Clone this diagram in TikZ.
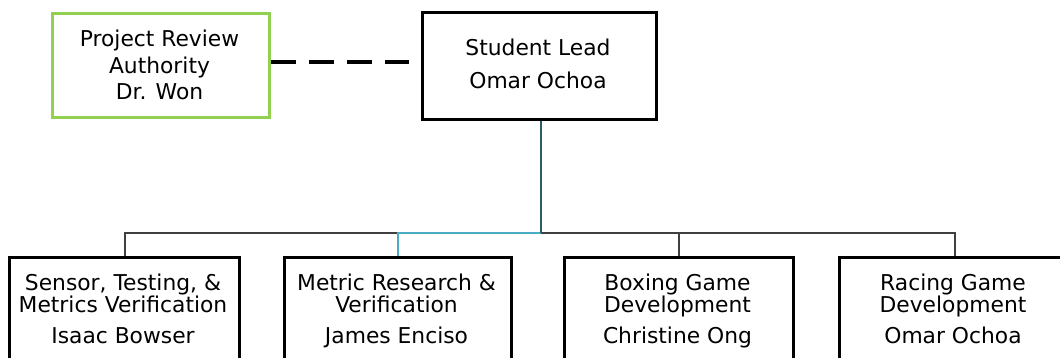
\documentclass[tikz,border=0pt]{standalone}
\usepackage{fontspec}
\setmainfont{DejaVu Sans}
\definecolor{boxgreen}{HTML}{92D050}
\definecolor{darkteal}{HTML}{2E5B6B}
\definecolor{lightteal}{HTML}{4BACC6}
\definecolor{linegray}{HTML}{404040}
\begin{document}
\begin{tikzpicture}[x=1pt,y=-1pt,
  bbox/.style={draw=black, line width=3.2pt, fill=white, inner sep=0pt, anchor=north west},
  gbox/.style={draw=boxgreen, line width=3.2pt, fill=white, inner sep=0pt, anchor=north west},
  txt/.style={anchor=base, inner sep=0pt, font=\fontsize{21.8}{24}\selectfont, text=black},
  conn/.style={draw=linegray, line width=2.2pt},
]
\useasboundingbox (0,0) rectangle (1060,358);
\clip (0,0) rectangle (1060,358);

% boxes
\node[gbox, minimum width=217, minimum height=104] (pra) at (51,12) {};
\node[bbox, minimum width=234, minimum height=107] (sl) at (421,11) {};
\node[bbox, minimum width=230, minimum height=130] (b1) at (8,256) {};
\node[bbox, minimum width=227, minimum height=130] (b2) at (283,256) {};
\node[bbox, minimum width=229, minimum height=130] (b3) at (563,256) {};
\node[bbox, minimum width=230, minimum height=130] (b4) at (838,256) {};

% texts
\node[txt] (pra1) at (159.5,47) {Project Review};
\node[txt] (pra2) at (159.5,74) {Authority};
\node[txt] (pra3) at (159.5,100) {Dr. Won};
\node[txt] (sl1) at (538,56) {Student Lead};
\node[txt] (sl2) at (538,89) {Omar Ochoa};
\node[txt] (b1a) at (123,290) {Sensor, Testing, \&};
\node[txt] (b1b) at (123,312) {Metrics Verification};
\node[txt] (b1c) at (123,343) {Isaac Bowser};
\node[txt] (b2a) at (396.5,290) {Metric Research \&};
\node[txt] (b2b) at (396.5,312) {Verification};
\node[txt] (b2c) at (396.5,343) {James Enciso};
\node[txt] (b3a) at (677.5,290) {Boxing Game};
\node[txt] (b3b) at (677.5,312) {Development};
\node[txt] (b3c) at (677.5,343) {Christine Ong};
\node[txt] (b4a) at (953,290) {Racing Game};
\node[txt] (b4b) at (953,312) {Development};
\node[txt] (b4c) at (953,343) {Omar Ochoa};

% connectors
\coordinate (j) at (541,233);
\coordinate (d1) at (b1.north |- j);
\coordinate (d2) at (b2.north |- j);
\coordinate (d3) at (b3.north |- j);
\coordinate (d4) at (b4.north |- j);
\coordinate (dashend) at (409,62);

\draw[conn] (b1.north) -- (d1) -- (d2);
\draw[conn] (j) -- (d3) -- (d4) -- (b4.north);
\draw[conn] (d3) -- (b3.north);
\draw[draw=lightteal, line width=2.2pt] (j) -- (d2) -- (b2.north);
\draw[draw=darkteal, line width=2.5pt] (sl.south -| j) -- (j);

\draw[black, line width=3.2pt, dash pattern=on 25pt off 13pt] (pra.east |- dashend) -- (dashend);
\end{tikzpicture}
\end{document}
